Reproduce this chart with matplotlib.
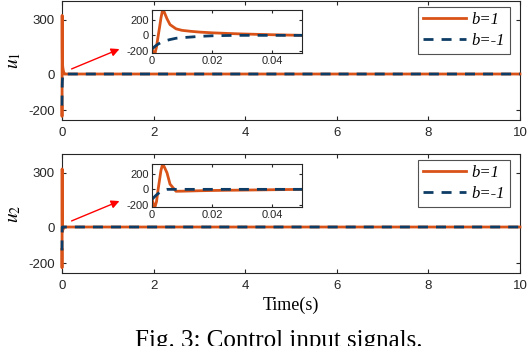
import matplotlib
matplotlib.use('Agg')
import matplotlib.pyplot as plt

plt.rcParams['font.family'] = ['Liberation Sans', 'DejaVu Sans']
plt.rcParams['mathtext.fontset'] = 'stix'
plt.rcParams['axes.unicode_minus'] = False

# time samples (s), transient part then steady state
t = [0, 0.0005, 0.001, 0.0015, 0.002, 0.0025, 0.003, 0.0035, 0.004, 0.005,
     0.006, 0.008, 0.01, 0.013, 0.016, 0.02, 0.025, 0.03, 0.04, 0.05, 10]

# u1
u1_b1 = [-180, -225, -235, -150, -20, 100, 230, 325, 310, 215,
         140, 85, 65, 52, 42, 33, 25, 18, 8, 0, 0]
u1_bm1 = [-175, -160, -143, -128, -115, -104, -93, -85, -78, -65,
          -55, -38, -30, -22, -13, -6, -2, 0, 0, 0, 0]
# u2
u2_b1 = [-125, -200, -226, -160, -10, 120, 250, 322, 300, 215,
         68, -25, -24, -21, -18, -15, -12, -10, -5, 0, 0]
u2_bm1 = [-130, -110, -90, -72, -56, -42, -30, -18, -8, 0,
          0, 0, 0, 0, 0, 0, 0, 0, 0, 0, 0]

orange = '#D95319'
navy = '#0d3d66'
dash = (0, (3.6, 2.9))

fig = plt.figure(figsize=(5.28, 3.46), dpi=100)

def style(ax, fs):
    ax.tick_params(direction='in', top=True, right=True, labelsize=fs,
                   length=3, width=0.8, colors='#262626', pad=5)
    for s in ax.spines.values():
        s.set_linewidth(0.8)
        s.set_color('#262626')

panels = [
    (u1_b1, u1_bm1, 0.6532, 0.8468, '1', 70, 48),
    (u2_b1, u2_bm1, 0.2110, 0.4017, '2', 222, 200),
]

for yb, yr, bot, ibot, sub, ay0, ay1 in panels:
    ax = fig.add_axes([0.1174, bot, 0.8674, 0.344])
    ax.plot(t, yb, color=orange, lw=2, label='b=1', zorder=3, clip_on=False)
    ax.plot(t, yr, color=navy, lw=2, ls=dash, label='b=-1', zorder=3, clip_on=False)
    ax.set_xlim(0, 10)
    ax.set_ylim(-255, 405)
    ax.set_xticks([0, 2, 4, 6, 8, 10])
    ax.set_yticks([-200, 0, 300])
    style(ax, 9.5)
    ax.set_ylabel('$u_{%s}$' % sub, fontsize=14, labelpad=4)
    leg = ax.legend(loc='upper right', bbox_to_anchor=(0.978, 0.95),
                    borderaxespad=0, fancybox=False, edgecolor='#262626',
                    handlelength=2.6, handletextpad=0.3, borderpad=0.3,
                    labelspacing=0.3,
                    prop={'family': 'Liberation Serif', 'style': 'italic', 'size': 12})
    leg.get_frame().set_linewidth(0.8)
    leg.set_zorder(5)

    ins = fig.add_axes([0.2879, ibot, 0.2841, 0.1243])
    ins.plot(t, yb, color=orange, lw=2)
    ins.plot(t, yr, color=navy, lw=2, ls=dash)
    ins.set_xlim(0, 0.05)
    ins.set_ylim(-230, 330)
    ins.set_xticks([0, 0.02, 0.04])
    ins.set_xticklabels(['0', '0.02', '0.04'])
    ins.set_yticks([-200, 0, 200])
    style(ins, 8)
    ins.tick_params(pad=2, length=2.5)

    fig.add_artist(matplotlib.patches.FancyArrowPatch(
        (69, 346 - ay0), (122, 346 - ay1), transform=None,
        arrowstyle='-|>', mutation_scale=12, color='red', lw=1))

fig.text(0.551, 1 - 305 / 346, 'Time(s)', ha='center', va='center',
         family='Liberation Serif', fontsize=13)
fig.text(0.528, 1 - 341 / 346, 'Fig. 3: Control input signals.', ha='center',
         va='center', family='Liberation Serif', fontsize=18)

fig.savefig('out.png', dpi=100)
